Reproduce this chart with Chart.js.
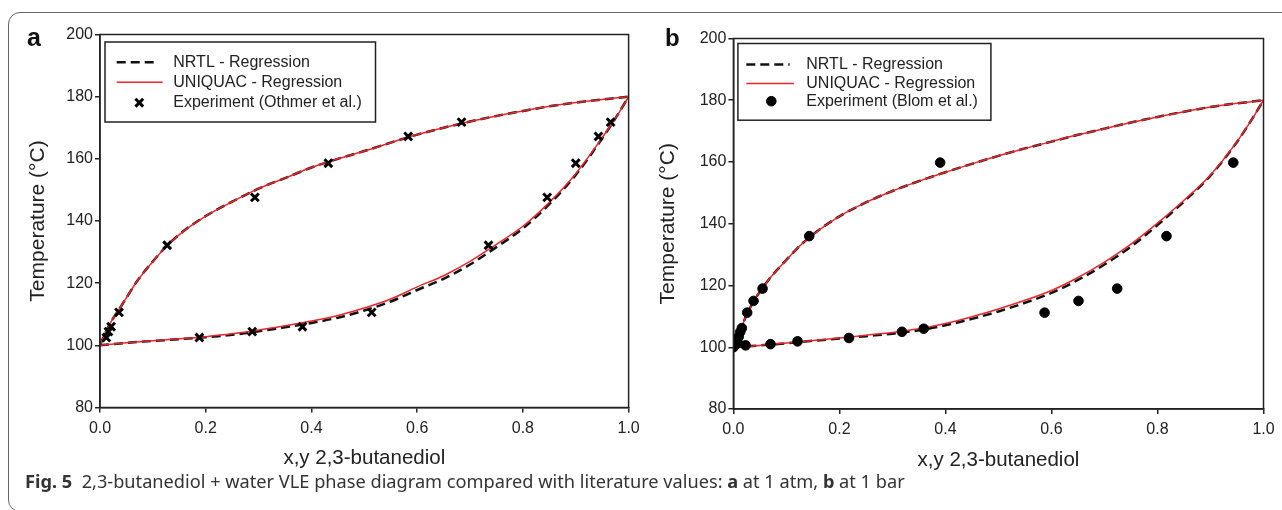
<!DOCTYPE html>
<html>
<head>
<meta charset="utf-8">
<script src="https://cdn.jsdelivr.net/npm/chart.js@4.4.0/dist/chart.umd.min.js"></script>
<style>
  html, body { margin: 0; padding: 0; background: #fff; }
  #page { position: relative; width: 1282px; height: 510px; overflow: hidden; background: #fff; }
  #frame { position: absolute; left: 8px; top: 12px; width: 1300px; height: 500px;
           border: 1.5px solid #666; border-radius: 12px; box-sizing: border-box; }
  canvas { position: absolute; top: 0; }
  #ca { left: 0; }
  #cb { left: 640px; }
  .panel { position: absolute; font-family: "Liberation Sans", Arial, sans-serif; font-weight: bold; color: #111; line-height: 1; }
  #caption { position: absolute; left: 25px; top: 472px; font-family: "Noto Sans", sans-serif; font-size: 18.2px;
             line-height: 1; color: #333; white-space: nowrap; }
</style>
</head>
<body>
<div id="page">
  <div id="frame"></div>
  <canvas id="ca" width="660" height="480"></canvas>
  <canvas id="cb" width="642" height="480"></canvas>
  <div class="panel" style="left:27px; top:25px; font-size:25px;">a</div>
  <div class="panel" style="left:665px; top:26px; font-size:24px;">b</div>
  <div id="caption"><b>Fig. 5</b>&nbsp; 2,3-butanediol + water VLE phase diagram compared with literature values: <b>a</b> at 1 atm, <b>b</b> at 1 bar</div>
</div>
<script>
// ---- panel a (1 atm) ----
const gridA = [0, 0.01, 0.02, 0.035, 0.05, 0.07, 0.1, 0.13, 0.16, 0.2, 0.25, 0.3, 0.35, 0.4, 0.45, 0.5, 0.55, 0.6, 0.65, 0.7, 0.75, 0.8, 0.85, 0.9, 0.95, 1.0];
const dewUniquacA = [100, 104, 107.3, 111.3, 115.3, 120.6, 127, 132.6, 137, 141.6, 146.2, 150.4, 153.8, 157.2, 160, 162.5, 165.2, 167.8, 170, 172, 173.8, 175.4, 176.9, 178.1, 179.1, 180];
const dewNrtlA    = [100, 104, 107.3, 111.3, 115.3, 120.6, 127, 132.6, 137, 141.6, 146.2, 150.4, 153.8, 157.2, 160, 162.5, 165.2, 167.8, 170, 172, 173.8, 175.4, 176.9, 178.1, 179.1, 180];
const bubXA = [0, 0.05, 0.1, 0.15, 0.2, 0.25, 0.3, 0.35, 0.4, 0.45, 0.5, 0.55, 0.6, 0.65, 0.7, 0.75, 0.8, 0.85, 0.9, 0.95, 0.975, 1.0];
const bubUniquacA = [100, 100.8, 101.5, 102.1, 102.8, 103.7, 104.9, 106.3, 107.8, 109.6, 112, 114.9, 118.8, 122.4, 127, 132.5, 138.3, 146, 155.2, 166.8, 173, 180];
const bubNrtlA    = [100, 100.8, 101.4, 102, 102.6, 103.4, 104.5, 105.8, 107.2, 108.9, 111.2, 114.1, 117.8, 121.4, 126, 131.6, 137.6, 145.4, 154.8, 166.6, 173, 180];
const expTA   = [102.5, 104.4, 106.0, 110.6, 132.2, 147.6, 158.6, 167.2, 171.8];
const expLiqA = [0.188, 0.288, 0.383, 0.514, 0.735, 0.846, 0.900, 0.943, 0.966];
const expVapA = [0.012, 0.016, 0.021, 0.036, 0.127, 0.293, 0.432, 0.583, 0.684];

// ---- panel b (1 bar) ----
const gridB = [0, 0.01, 0.02, 0.03, 0.04, 0.05, 0.07, 0.1, 0.13, 0.16, 0.2, 0.25, 0.3, 0.35, 0.4, 0.45, 0.5, 0.55, 0.6, 0.65, 0.7, 0.75, 0.8, 0.85, 0.9, 0.95, 1.0];
const dewUniquacB = [100, 104, 108.5, 112.3, 115.4, 118, 122.6, 128.3, 133.6, 137.8, 142.4, 146.9, 150.6, 153.8, 156.7, 159.4, 162, 164.4, 166.6, 168.8, 170.8, 172.8, 174.6, 176.3, 177.8, 179, 180];
const dewNrtlB    = [100, 104, 108.5, 112.3, 115.4, 118, 122.6, 128.3, 133.6, 137.8, 142.4, 146.9, 150.6, 153.8, 156.7, 159.4, 162, 164.4, 166.6, 168.8, 170.8, 172.8, 174.6, 176.3, 177.8, 179, 180];
const bubXB = [0, 0.05, 0.1, 0.15, 0.2, 0.25, 0.3, 0.35, 0.4, 0.45, 0.5, 0.55, 0.6, 0.65, 0.7, 0.75, 0.8, 0.85, 0.9, 0.95, 0.975, 1.0];
const bubUniquacB = [100, 100.6, 101.4, 102.2, 103, 103.9, 104.8, 106, 107.7, 109.9, 112.4, 115.2, 118.4, 122.6, 127.6, 133.4, 140.2, 147.6, 155.8, 166.6, 173, 180];
const bubNrtlB    = [100, 100.6, 101.3, 102.1, 102.8, 103.6, 104.4, 105.5, 107.1, 109.2, 111.6, 114.4, 117.6, 121.8, 126.8, 132.6, 139.6, 147.2, 155.6, 166.5, 173, 180];
const expXB = [0.000, 0.004, 0.008, 0.010, 0.013, 0.016, 0.026, 0.038, 0.055, 0.143, 0.390, 0.023, 0.070, 0.121, 0.218, 0.318, 0.359, 0.587, 0.651, 0.724, 0.817, 0.943];
const expTB = [100.0, 100.8, 101.6, 103.4, 105.0, 106.2, 111.2, 115.0, 119.0, 136.0, 159.8, 100.6, 101.0, 101.9, 103.0, 105.0, 106.0, 111.2, 115.0, 119.0, 136.0, 159.8];

const xTicks = [0, 0.2, 0.4, 0.6, 0.8, 1.0];
const yTicks = [80, 100, 120, 140, 160, 180, 200];

const pts = (xs, ys) => xs.map((x, i) => ({ x: x, y: ys[i] }));
const INK = '#222';
const RED = '#e8262d';
const FONT = '"Liberation Sans", Arial, sans-serif';

// plot frame + boxed legend inside the plot area
const boxLegend = {
  id: 'boxLegend',
  afterDatasetsDraw(chart, args, o) {
    const { ctx, chartArea: a } = chart;
    ctx.save();
    ctx.strokeStyle = INK;
    ctx.lineWidth = 1.5;
    ctx.setLineDash([]);
    ctx.strokeRect(a.left, a.top, a.right - a.left, a.bottom - a.top);
    const x0 = a.left + o.dx, y0 = a.top + o.dy;
    ctx.fillStyle = '#fff';
    ctx.fillRect(x0, y0, o.w, o.h);
    ctx.strokeRect(x0, y0, o.w, o.h);
    ctx.font = '16px ' + FONT;
    ctx.textBaseline = 'middle';
    let row = 0;
    chart.data.datasets.forEach(d => {
      if (!d.label) return;
      const y = y0 + o.rows[row];
      if (d.showLine) {
        ctx.strokeStyle = d.borderColor;
        ctx.lineWidth = d.borderWidth;
        ctx.setLineDash(d.borderDash || []);
        ctx.beginPath();
        ctx.moveTo(x0 + o.l1, y);
        ctx.lineTo(x0 + (d.borderDash ? o.l2 : o.l3), y);
        ctx.stroke();
        ctx.setLineDash([]);
      } else {
        ctx.fillStyle = d.pointBackgroundColor;
        ctx.strokeStyle = d.pointBorderColor;
        ctx.lineWidth = d.pointBorderWidth;
        Chart.helpers.drawPoint(ctx, { pointStyle: d.pointStyle, radius: d.pointRadius, borderWidth: d.pointBorderWidth, rotation: 0 }, x0 + o.mk, y);
      }
      ctx.fillStyle = INK;
      ctx.fillText(d.label, x0 + o.tx, y);
      row++;
    });
    ctx.restore();
  }
};

function lineSet(label, data, color, width, dash, order) {
  return { label: label, data: data, showLine: true, borderColor: color, borderWidth: width,
           borderDash: dash, pointRadius: 0, cubicInterpolationMode: 'monotone', fill: false, order: order };
}

function markSet(label, data, style, radius, bw) {
  return { label: label, data: data, showLine: false, pointStyle: style, pointRadius: radius,
           pointBorderWidth: bw, pointBackgroundColor: '#000', pointBorderColor: '#000', order: -1 };
}

function makeChart(id, datasets, lay, legend) {
  return new Chart(document.getElementById(id), {
    type: 'scatter',
    data: { datasets: datasets },
    plugins: [boxLegend],
    options: {
      responsive: false,
      animation: false,
      events: [],
      layout: { padding: { top: lay.top, right: lay.right, left: 0, bottom: 0 } },
      plugins: { legend: { display: false }, tooltip: { enabled: false }, boxLegend: legend },
      scales: {
        x: {
          type: 'linear', min: 0, max: 1,
          afterBuildTicks: s => { s.ticks = xTicks.map(v => ({ value: v })); },
          afterFit: s => { s.height = lay.xh; },
          ticks: { color: INK, font: { family: FONT, size: 16 }, padding: 6, callback: v => v.toFixed(1) },
          grid: { drawOnChartArea: false, drawTicks: true, tickLength: 5, color: INK, lineWidth: 1.5 },
          border: { display: true, color: INK, width: 1.5 },
          title: { display: true, text: 'x,y 2,3-butanediol', color: INK, font: { family: FONT, size: 20.5 },
                   padding: { top: 0, bottom: lay.xtp } }
        },
        y: {
          type: 'linear', min: 80, max: 200,
          afterBuildTicks: s => { s.ticks = yTicks.map(v => ({ value: v })); },
          afterFit: s => { s.width = lay.yw; },
          ticks: { color: INK, font: { family: FONT, size: 16 }, padding: 2 },
          grid: { drawOnChartArea: false, drawTicks: true, tickLength: 5, color: INK, lineWidth: 1.5 },
          border: { display: true, color: INK, width: 1.5 },
          title: { display: true, text: 'Temperature (\u00B0C)', color: INK, font: { family: FONT, size: 21 },
                   padding: { top: lay.ytp, bottom: 0 } }
        }
      }
    }
  });
}

makeChart('ca', [
  lineSet('NRTL - Regression', pts(gridA, dewNrtlA), '#111', 2.5, [9, 5], 2),
  lineSet('UNIQUAC - Regression', pts(gridA, dewUniquacA), RED, 1.5, undefined, 0),
  markSet('Experiment (Othmer et al.)', pts(expVapA, expTA).concat(pts(expLiqA, expTA)), 'crossRot', 5.5, 3),
  lineSet('', pts(bubXA, bubNrtlA), '#111', 2.5, [9, 5], 2),
  lineSet('', pts(bubXA, bubUniquacA), RED, 1.5, undefined, 0)
], { top: 34.5, right: 31.4, xh: 72.5, yw: 100, xtp: 9, ytp: 26 },
   { dx: 5, dy: 7.5, w: 270.5, h: 80, rows: [20.3, 40.3, 60.7], l1: 11.7, l2: 53.3, l3: 57.7, mk: 34.3, tx: 68.3 });

makeChart('cb', [
  lineSet('NRTL - Regression', pts(gridB, dewNrtlB), '#111', 2.5, [9, 5], 2),
  lineSet('UNIQUAC - Regression', pts(gridB, dewUniquacB), RED, 1.5, undefined, 0),
  markSet('Experiment (Blom et al.)', pts(expXB, expTB), 'circle', 4.8, 1),
  lineSet('', pts(bubXB, bubNrtlB), '#111', 2.5, [9, 5], 2),
  lineSet('', pts(bubXB, bubUniquacB), RED, 1.5, undefined, 0)
], { top: 38.5, right: 18.5, xh: 71, yw: 93.4, xtp: 7, ytp: 16 },
   { dx: 4.5, dy: 5, w: 253, h: 76.7, rows: [21, 40, 57.7], l1: 8.4, l2: 51.7, l3: 56, mk: 33.4, tx: 68.4 });
</script>
</body>
</html>
